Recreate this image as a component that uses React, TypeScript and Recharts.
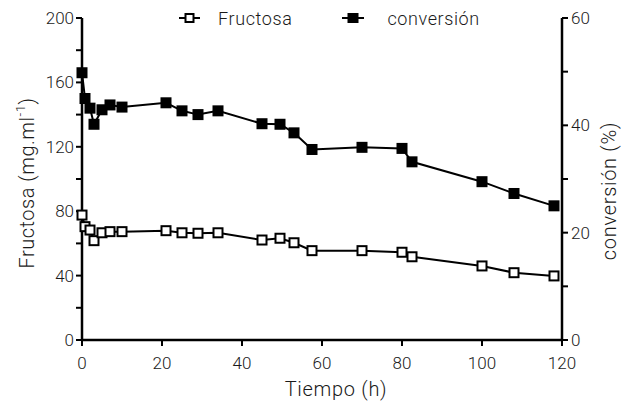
import { ComposedChart, Line, XAxis, YAxis, Legend } from "recharts";

// time (h)
const tiempo = [0, 0.75, 2, 3, 5, 7, 10, 21, 25, 29, 34, 45, 49.5, 53, 57.5, 70, 80, 82.5, 100, 108, 118];
// mg/ml
const fructosa = [77.6, 70.4, 68.3, 61.7, 66.6, 67.3, 67.3, 67.9, 66.6, 66.3, 66.6, 62.1, 63.2, 60.4, 55.5, 55.5, 54.5, 51.7, 46, 41.8, 39.8];
// %
const conversion = [49.8, 45.0, 43.2, 40.2, 42.9, 43.8, 43.4, 44.2, 42.7, 42.0, 42.7, 40.3, 40.2, 38.6, 35.5, 35.9, 35.7, 33.2, 29.5, 27.3, 25.0];

const xTicks = [0, 20, 40, 60, 80, 100, 120];
const leftTicks = [0, 20, 40, 60, 80, 100, 120, 140, 160, 180, 200];
const rightTicks = [0, 10, 20, 30, 40, 50, 60];

const FONT = "Roboto, 'Liberation Sans', Arial, sans-serif";
const WEIGHT = 300;
const TEXT = "#1a1a1a";

const data = tiempo.map((t, i) => ({ t, fructosa: fructosa[i], conversion: conversion[i] }));

// eslint-disable-next-line @typescript-eslint/no-explicit-any
function OpenSquare({ cx, cy }: any) {
  if (cx == null || cy == null) return null;
  return <rect x={cx - 4.5} y={cy - 4.5} width={9} height={9} fill="#fff" stroke="#000" strokeWidth={2} />;
}

// eslint-disable-next-line @typescript-eslint/no-explicit-any
function FilledSquare({ cx, cy }: any) {
  if (cx == null || cy == null) return null;
  return <rect x={cx - 5.5} y={cy - 5.5} width={11} height={11} fill="#000" />;
}

function LegendContent() {
  return (
    <div style={{ display: "flex", alignItems: "center", fontFamily: FONT, fontWeight: WEIGHT, fontSize: 18, color: TEXT, height: 20 }}>
      <svg width={21} height={12}>
        <line x1={0} x2={21} y1={6} y2={6} stroke="#000" strokeWidth={2} />
        <rect x={6.5} y={2} width={8} height={8} fill="#fff" stroke="#000" strokeWidth={2} />
      </svg>
      <span style={{ marginLeft: 18, letterSpacing: 0.6 }}>Fructosa</span>
      <svg width={22} height={12} style={{ marginLeft: 50 }}>
        <line x1={0} x2={22} y1={6} y2={6} stroke="#000" strokeWidth={2} />
        <rect x={5.5} y={1} width={11} height={10} fill="#000" />
      </svg>
      <span style={{ marginLeft: 23, letterSpacing: 0.6 }}>conversión</span>
    </div>
  );
}

// eslint-disable-next-line @typescript-eslint/no-explicit-any
function LeftTitle({ viewBox }: any) {
  const x = 27;
  const y = viewBox.y + viewBox.height / 2 + 4;
  return (
    <text x={x} y={y} transform={`rotate(-90 ${x} ${y})`} textAnchor="middle" dominantBaseline="central"
      fontFamily={FONT} fontWeight={WEIGHT} fontSize={20} fill={TEXT} letterSpacing={0.5}>
      Fructosa (mg.ml
      <tspan fontSize={13} dy={-7}>-1</tspan>
      <tspan dy={7}>)</tspan>
    </text>
  );
}

// eslint-disable-next-line @typescript-eslint/no-explicit-any
function RightTitle({ viewBox }: any) {
  const x = 609;
  const y = viewBox.y + viewBox.height / 2 + 12;
  return (
    <text x={x} y={y} transform={`rotate(-90 ${x} ${y})`} textAnchor="middle" dominantBaseline="central"
      fontFamily={FONT} fontWeight={WEIGHT} fontSize={20} fill={TEXT} letterSpacing={0.7}>
      conversión (%)
    </text>
  );
}

// eslint-disable-next-line @typescript-eslint/no-explicit-any
function BottomTitle({ viewBox }: any) {
  const x = viewBox.x + viewBox.width / 2 + 14;
  return (
    <text x={x} y={396} textAnchor="middle" fontFamily={FONT} fontWeight={WEIGHT} fontSize={20} fill={TEXT} letterSpacing={0.7}>
      Tiempo (h)
    </text>
  );
}

const tickStyle = { fontSize: 17, fill: TEXT, fontFamily: FONT, fontWeight: WEIGHT };

export default function App() {
  return (
    <div style={{ position: "fixed", left: 0, top: 0, width: 621, height: 402, background: "#fff" }}>
      <ComposedChart width={621} height={402} data={data} margin={{ top: 18, right: 29, bottom: 32, left: 42 }}>
        <XAxis
          dataKey="t"
          type="number"
          domain={[0, 120]}
          ticks={xTicks}
          height={30}
          axisLine={{ stroke: "#000", strokeWidth: 2.5 }}
          tickLine={{ stroke: "#000", strokeWidth: 2 }}
          tickSize={6}
          tickMargin={11}
          tick={tickStyle}
          label={{ content: BottomTitle }}
        />
        <YAxis
          yAxisId="left"
          domain={[0, 200]}
          ticks={leftTicks}
          width={40}
          axisLine={{ stroke: "#000", strokeWidth: 2.5 }}
          tickLine={{ stroke: "#000", strokeWidth: 2 }}
          tickSize={6}
          tickMargin={2}
          tick={tickStyle}
          tickFormatter={(v: number) => (v % 40 === 0 ? String(v) : "")}
          label={{ content: LeftTitle }}
        />
        <YAxis
          yAxisId="right"
          orientation="right"
          domain={[0, 60]}
          ticks={rightTicks}
          width={30}
          axisLine={{ stroke: "#000", strokeWidth: 2.5 }}
          tickLine={{ stroke: "#000", strokeWidth: 2 }}
          tickSize={6}
          tickMargin={3}
          tick={tickStyle}
          tickFormatter={(v: number) => (v % 20 === 0 ? String(v) : "")}
          label={{ content: RightTitle }}
        />
        <Legend
          verticalAlign="middle"
          align="center"
          content={LegendContent}
          wrapperStyle={{ position: "absolute", top: 8, left: 179, width: 340 }}
        />
        <Line
          yAxisId="left"
          dataKey="fructosa"
          name="Fructosa"
          type="linear"
          stroke="#000"
          strokeWidth={2}
          dot={<OpenSquare />}
          activeDot={false}
          isAnimationActive={false}
        />
        <Line
          yAxisId="right"
          dataKey="conversion"
          name="conversión"
          type="linear"
          stroke="#000"
          strokeWidth={2}
          dot={<FilledSquare />}
          activeDot={false}
          isAnimationActive={false}
        />
      </ComposedChart>
    </div>
  );
}
